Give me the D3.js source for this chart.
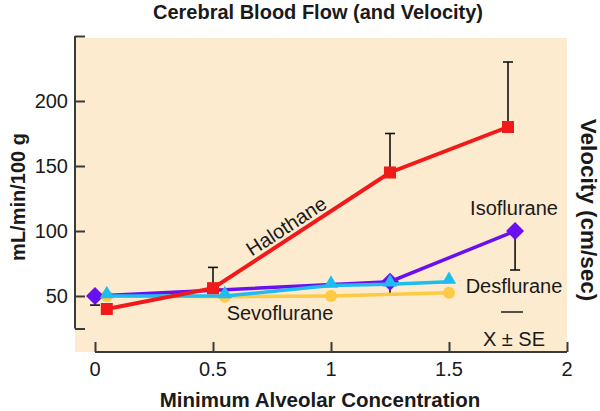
<!DOCTYPE html>
<html>
<head>
<meta charset="utf-8">
<script src="https://cdn.jsdelivr.net/npm/d3@7"></script>
<style>
  body { margin: 0; background: #fff; }
  svg { display: block; font-family: "Liberation Sans", Arial, Helvetica, sans-serif; }
</style>
</head>
<body>
<svg id="chart" width="600" height="411"></svg>
<script>
// ---- data ----
const xTicks = [0, 0.5, 1, 1.5, 2];
const xTickLabels = ["0", "0.5", "1", "1.5", "2"];
const yTicks = [50, 100, 150, 200];
const yTickLabels = ["50", "100", "150", "200"];

const halothaneX = [0.05, 0.5, 1.25, 1.75];
const halothaneY = [40, 56, 145, 180];
const halothaneErrTop = [null, 72, 175, 230];

const isofluraneX = [0, 1.25, 1.78];
const isofluraneY = [50, 61, 100];
const isofluraneErrBottom = [43, 51, 70];

const desfluraneX = [0.05, 0.55, 1.0, 1.25, 1.5];
const desfluraneY = [50, 50, 58, 59, 61];

const sevofluraneX = [0.05, 0.55, 1.0, 1.5];
const sevofluraneY = [50, 49.5, 50, 52.5];

const title = "Cerebral Blood Flow (and Velocity)";
const xLabel = "Minimum Alveolar Concentration";
const yLabel = "mL/min/100 g";
const y2Label = "Velocity (cm/sec)";

// ---- layout ----
const svg = d3.select("#chart");
const x = d3.scaleLinear().domain([0, 2]).range([95, 567]);
const y = d3.scaleLinear().domain([50, 200]).range([296, 101]);
const txt = "#1a1a1a";
const FS = 20;

// background panel
svg.append("rect").attr("x", 75).attr("y", 38).attr("width", 492).attr("height", 314)
  .attr("fill", "#fdebcf");

// title
svg.append("text").attr("x", 318).attr("y", 19).attr("text-anchor", "middle")
  .attr("font-size", FS).attr("font-weight", "bold").attr("fill", txt).text(title);

// y axis
const yAxis = d3.axisRight(y).tickValues([25, 50, 100, 150, 200, 250]).tickSize(10).tickFormat("");
const gy = svg.append("g").attr("transform", "translate(75,0)").call(yAxis);
gy.select(".domain").remove();
gy.append("line").attr("x1", 0).attr("x2", 0).attr("y1", y(250)).attr("y2", y(25));
gy.selectAll("line").attr("stroke", "#3a3a3a").attr("stroke-width", 2);
svg.append("g").selectAll("text").data(yTicks).join("text")
  .attr("x", 68).attr("y", d => y(d)).attr("dy", "0.36em").attr("text-anchor", "end")
  .attr("font-size", FS).attr("fill", txt).text((d, i) => yTickLabels[i]);

// x axis
const xAxis = d3.axisTop(x).tickValues(xTicks).tickSize(10).tickFormat("");
const gx = svg.append("g").attr("transform", "translate(0,352)").call(xAxis);
gx.select(".domain").remove();
gx.append("line").attr("x1", x(0)).attr("x2", x(2)).attr("y1", 0).attr("y2", 0);
gx.selectAll("line").attr("stroke", "#3a3a3a").attr("stroke-width", 2);
svg.append("g").selectAll("text").data(xTicks).join("text")
  .attr("x", d => x(d)).attr("y", 376).attr("text-anchor", "middle")
  .attr("font-size", FS).attr("fill", txt).text((d, i) => xTickLabels[i]);

// axis titles
svg.append("text").attr("x", 320).attr("y", 407).attr("text-anchor", "middle")
  .attr("font-size", 20.5).attr("font-weight", "bold").attr("fill", txt).text(xLabel);
svg.append("text").attr("transform", "translate(25,197) rotate(-90)").attr("text-anchor", "middle")
  .attr("font-size", FS).attr("font-weight", "bold").attr("fill", txt).text(yLabel);
svg.append("text").attr("transform", "translate(581,210) rotate(90)").attr("text-anchor", "middle")
  .attr("font-size", 22.5).attr("font-weight", "bold").attr("fill", txt).text(y2Label);

// error bars helper
function errBar(g, cx, cy, ey) {
  g.append("line").attr("x1", cx).attr("x2", cx).attr("y1", cy).attr("y2", ey)
    .attr("stroke", "#111").attr("stroke-width", 1.6);
  g.append("line").attr("x1", cx - 5).attr("x2", cx + 5).attr("y1", ey).attr("y2", ey)
    .attr("stroke", "#111").attr("stroke-width", 1.6);
}
const eg = svg.append("g");
halothaneX.forEach((d, i) => { if (halothaneErrTop[i] != null) errBar(eg, x(d), y(halothaneY[i]), y(halothaneErrTop[i])); });
isofluraneX.forEach((d, i) => errBar(eg, x(d), y(isofluraneY[i]), y(isofluraneErrBottom[i])));

const line = d3.line().x(d => x(d[0])).y(d => y(d[1]));
const zip = (a, b) => a.map((v, i) => [v, b[i]]);

// Sevoflurane
const sevoColor = "#fdca45";
svg.append("path").datum(zip(sevofluraneX, sevofluraneY)).attr("d", line)
  .attr("fill", "none").attr("stroke", sevoColor).attr("stroke-width", 3.5);
svg.append("g").selectAll("circle").data(zip(sevofluraneX, sevofluraneY)).join("circle")
  .attr("cx", d => x(d[0])).attr("cy", d => y(d[1])).attr("r", 6).attr("fill", sevoColor);

// Isoflurane
const isoColor = "#6a10f0";
svg.append("path").datum(zip(isofluraneX, isofluraneY)).attr("d", line)
  .attr("fill", "none").attr("stroke", isoColor).attr("stroke-width", 3.5);
svg.append("g").selectAll("path").data(zip(isofluraneX, isofluraneY)).join("path")
  .attr("d", "M0,-9L9,0L0,9L-9,0Z")
  .attr("transform", d => `translate(${x(d[0])},${y(d[1])})`).attr("fill", isoColor);

// Desflurane
const desColor = "#1fbcf2";
svg.append("path").datum(zip(desfluraneX, desfluraneY)).attr("d", line)
  .attr("fill", "none").attr("stroke", desColor).attr("stroke-width", 3.5);
svg.append("g").selectAll("path").data(zip(desfluraneX, desfluraneY)).join("path")
  .attr("d", d3.symbol(d3.symbolTriangle, 90)())
  .attr("transform", d => `translate(${x(d[0])},${y(d[1]) - 2})`).attr("fill", desColor);

// Halothane
const halColor = "#f01a1a";
svg.append("path").datum(zip(halothaneX, halothaneY)).attr("d", line)
  .attr("fill", "none").attr("stroke", halColor).attr("stroke-width", 4);
svg.append("g").selectAll("rect").data(zip(halothaneX, halothaneY)).join("rect")
  .attr("x", d => x(d[0]) - 6).attr("y", d => y(d[1]) - 6).attr("width", 12).attr("height", 12)
  .attr("fill", halColor);

// series labels
const lab = svg.append("g").attr("font-size", FS).attr("fill", txt);
lab.append("text").attr("transform", "translate(290,232) rotate(-33)").attr("text-anchor", "middle").text("Halothane");
lab.append("text").attr("x", 514).attr("y", 215).attr("text-anchor", "middle").text("Isoflurane");
lab.append("text").attr("x", 514).attr("y", 293).attr("text-anchor", "middle").text("Desflurane");
lab.append("text").attr("x", 280).attr("y", 320).attr("text-anchor", "middle").text("Sevoflurane");
lab.append("line").attr("x1", 501).attr("x2", 523).attr("y1", 312).attr("y2", 312).attr("stroke", txt).attr("stroke-width", 1.5);
lab.append("text").attr("x", 514).attr("y", 346).attr("text-anchor", "middle").text("X ± SE");
</script>
</body>
</html>
